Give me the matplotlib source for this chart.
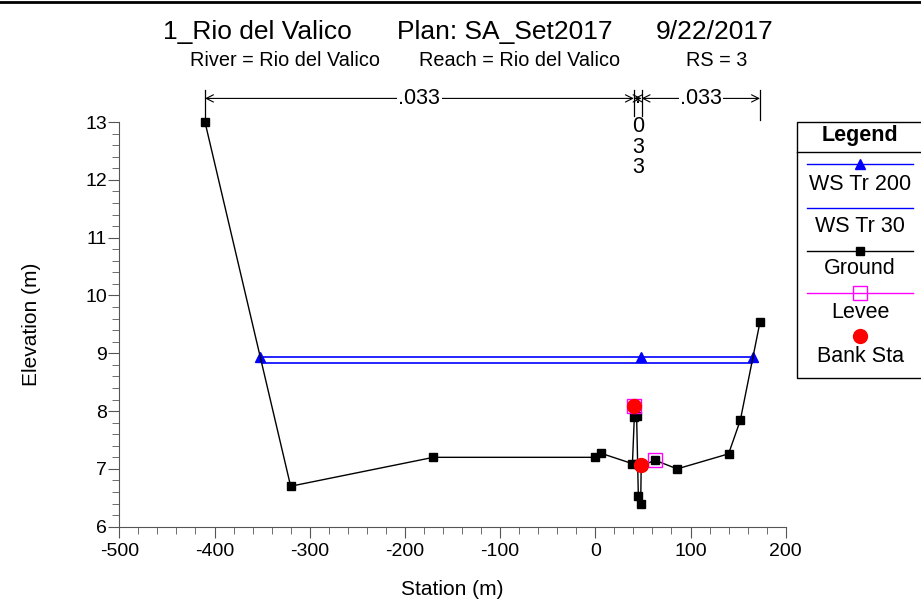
import numpy as np
import matplotlib
matplotlib.use("Agg")
import matplotlib.pyplot as plt
from matplotlib.lines import Line2D

plt.rcParams['font.family'] = ['Liberation Sans', 'DejaVu Sans']
plt.rcParams['axes.unicode_minus'] = False

# ground profile (station, elevation)
ground_x = [-410, -320, -170, 0, 6, 39, 41, 43.4, 44.5, 45.2, 47.7, 48.2, 62.7, 86, 140, 152.3, 173]
ground_y = [13.0, 6.70, 7.20, 7.20, 7.27, 7.09, 7.90, 7.91, 7.08, 6.53, 6.40, 7.05, 7.15, 7.00, 7.26, 7.84, 9.54]

# water surfaces
ws200_x = [-352, 47.5, 165.7]
ws200_y = [8.94, 8.94, 8.94]
ws30_x = [-350.6, 164.5]
ws30_y = [8.84, 8.84]

levee_x = [40.3, 62.7]
levee_y = [8.08, 7.15]
bank_x = [40.3, 47.7]
bank_y = [8.08, 7.06]

# manning's n breaks
n_breaks = [-410, 40.5, 48.6, 173]
n_values = ['.033', '.033', '.033']

title_parts = ['1_Rio del Valico', 'Plan: SA_Set2017', '9/22/2017']
subtitle_parts = ['River = Rio del Valico', 'Reach = Rio del Valico', 'RS = 3']
legend_names = ['WS Tr 200', 'WS Tr 30', 'Ground', 'Levee', 'Bank Sta']

W, H = 921, 605
fig = plt.figure(figsize=(W / 100, H / 100), dpi=100)
ax = fig.add_axes([119.3 / W, 1 - 526.7 / H, (785.7 - 119.3) / W, (526.7 - 122) / H])


def py2data(p):
    # pixel row -> elevation
    return 6 + (526.7 - p) / 57.6


ax.plot(ws200_x, ws200_y, color='#0000ff', lw=1.2, marker='^', ms=6.5, zorder=3, clip_on=False)
ax.plot(ws30_x, ws30_y, color='#0000ff', lw=1.2, zorder=3)
ax.plot(ground_x, ground_y, color='black', lw=1, marker='s', ms=5.5, zorder=4, clip_on=False)
ax.plot(levee_x, levee_y, ls='none', marker='s', ms=9.5, mfc='none', mec='#ff00ff', mew=1, zorder=5)
ax.plot(bank_x, bank_y, ls='none', marker='o', ms=10, color='red', zorder=6)

ax.set_xlim(-500, 200)
ax.set_ylim(6, 13)
ax.set_xticks(np.arange(-500, 201, 100))
ax.set_xticks(np.arange(-500, 201, 20), minor=True)
ax.set_yticks(np.arange(6, 14, 1))
ax.set_yticks(np.arange(6, 13.01, 0.2), minor=True)
for s in ['top', 'right']:
    ax.spines[s].set_visible(False)
for s in ['left', 'bottom']:
    ax.spines[s].set_color('#555555')
ax.tick_params(which='major', length=8, color='#555555', labelsize=14, pad=1)
ax.tick_params(axis='x', which='major', pad=4)
ax.tick_params(which='minor', length=5, color='#555555')
ax.set_xlabel('Station (m)', fontsize=15, labelpad=14)
ax.set_ylabel('Elevation (m)', fontsize=15, labelpad=32)

# manning's n annotation above the plot
ny = py2data(100)
for i, xb in enumerate(n_breaks):
    bottom = py2data(118) if 0 < i < len(n_breaks) - 1 else py2data(122)
    ax.plot([xb, xb], [py2data(92), bottom], color='black', lw=0.9, clip_on=False)
for i, nv in enumerate(n_values):
    x0, x1 = n_breaks[i], n_breaks[i + 1]
    ax.annotate('', xy=(x1, ny), xytext=(x0, ny), annotation_clip=False,
                arrowprops=dict(arrowstyle='<->', lw=0.8, shrinkA=0, shrinkB=0,
                                mutation_scale=13, color='black'))
    xm = (x0 + x1) / 2
    if x1 - x0 > 40:
        ax.text(xm, ny, nv, ha='center', va='center', fontsize=15.5,
                bbox=dict(fc='white', ec='none', pad=1), zorder=5, clip_on=False)
    else:
        for ch, p in zip(nv, [99, 128, 149, 169]):
            ax.text(xm, py2data(p), ch, ha='center', va='center', fontsize=15.5,
                    clip_on=False, zorder=7)

for txt, px in zip(title_parts, [257, 505, 715]):
    fig.text(px / W, 1 - 32 / H, txt, ha='center', va='center', fontsize=19)
for txt, px in zip(subtitle_parts, [285, 520, 717]):
    fig.text(px / W, 1 - 60 / H, txt, ha='center', va='center', fontsize=14.3)

# top frame line
fig.add_artist(Line2D([0, 1], [1 - 1.5 / H, 1 - 1.5 / H], color='black', lw=2,
                      transform=fig.transFigure))


# legend box
def fx(p):
    return p / W


def fy(p):
    return 1 - p / H


bx0, bx1, by0, by1 = 796.7, 926, 122.3, 378
fig.add_artist(plt.Rectangle((fx(bx0), fy(by1)), fx(bx1) - fx(bx0), fy(by0) - fy(by1),
                             transform=fig.transFigure, fc='white', ec='black', lw=1))
fig.add_artist(Line2D([fx(bx0), fx(bx1)], [fy(152.3)] * 2, color='black', lw=1,
                      transform=fig.transFigure))
cx = 860
fig.text(fx(cx), fy(136), 'Legend', ha='center', va='center', fontsize=15.5, fontweight='bold')
line_y = [164.3, 208.3, 250.7, 292.7, 336]
label_y = [185, 227, 269, 312, 356]
line_col = ['#0000ff', '#0000ff', 'black', '#ff00ff', None]
markers = [
    dict(marker='^', ms=6.5, color='#0000ff'),
    None,
    dict(marker='s', ms=5.5, color='black'),
    dict(marker='s', ms=9.5, mfc='none', mec='#ff00ff'),
    dict(marker='o', ms=10, color='red'),
]
for name, ly, lby, lc, mk in zip(legend_names, line_y, label_y, line_col, markers):
    if lc:
        fig.add_artist(Line2D([fx(807), fx(913)], [fy(ly)] * 2, color=lc, lw=1,
                              transform=fig.transFigure))
    if mk:
        fig.add_artist(Line2D([fx(cx)], [fy(ly)], ls='none', transform=fig.transFigure, **mk))
    fig.text(fx(cx), fy(lby), name, ha='center', va='center', fontsize=15.5)

fig.savefig('out.png', dpi=100)
